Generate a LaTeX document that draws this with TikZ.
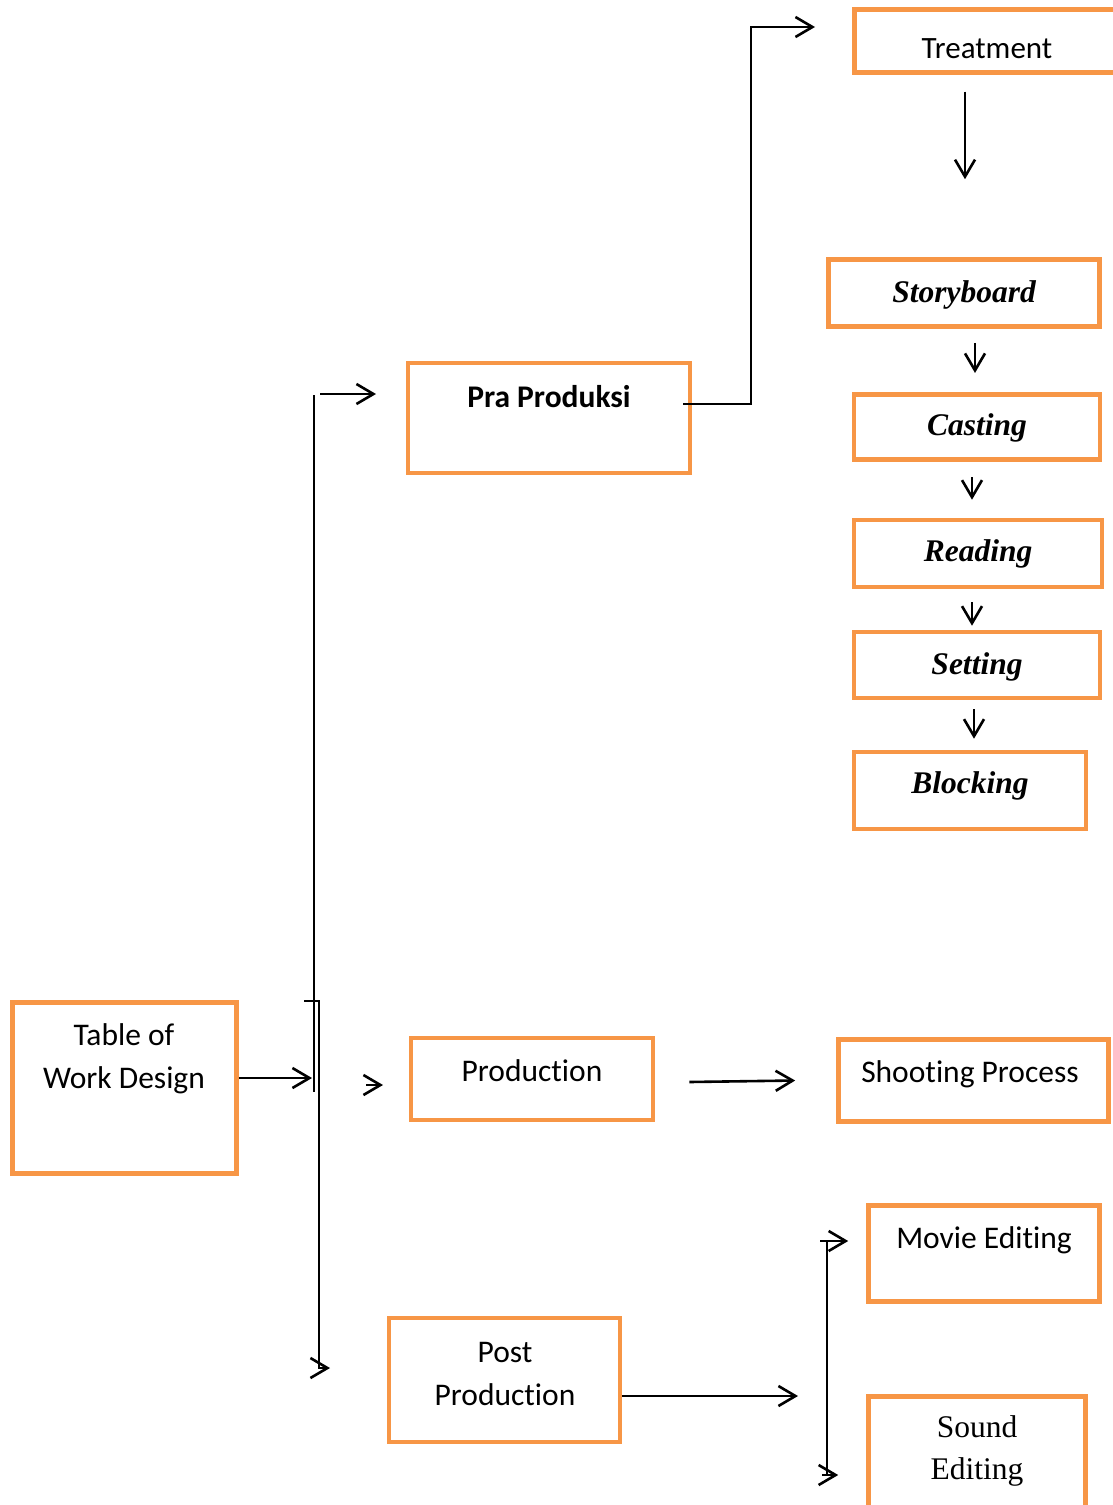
\documentclass[tikz,border=0pt]{standalone}
\usepackage{fontspec}
\setmainfont{Carlito}[Ligatures={NoCommon,NoContextual}]
\newfontfamily\tnr{Liberation Serif}
\usetikzlibrary{arrows.meta,positioning}
\definecolor{boxorange}{HTML}{F79646}
\tikzset{
        framebox/.style={
                draw=boxorange,
                line width=4.6pt,
                inner sep=0pt
            },
        txt/.style={
                inner sep=0pt,
                align=center,
                anchor=base,
                font=\fontsize{31.5}{43}\selectfont
            },
        itxt/.style={
                txt,
                font=\fontsize{31.5}{42}\selectfont\tnr\bfseries\itshape
            },
        arr/.style={
                line width=2.6pt,
                -{Straight Barb[length=17pt,width=20pt]}
            },
        plain/.style={line width=2.6pt}
}

\begin{document}
\begin{tikzpicture}[x=1pt,y=-1pt]
  \useasboundingbox (0,0) rectangle (1112,1505);
  % Boxes
  \node[framebox,minimum width=224pt,minimum height=171.5pt] (tab) at (124.5,1088) {};
  \node[framebox,minimum width=282pt,minimum height=110pt] (pra) at (549,418) {};
  \node[framebox,minimum width=242pt,minimum height=82pt] (prod) at (532,1079) {};
  \node[framebox,minimum width=231pt,minimum height=124pt] (post) at (504.5,1380) {};
  \node[framebox,minimum width=275pt,minimum height=62.5pt] (trt) at (992,41) {};
  \node[framebox,minimum width=271.5pt,minimum height=67pt] (sb) at (964,293) {};
  \node[framebox,minimum width=246pt,minimum height=65.5pt] (cast) at (977,427) {};
  \node[framebox,minimum width=248pt,minimum height=67pt] (read) at (978,553.5) {};
  \node[framebox,minimum width=246pt,minimum height=66pt] (set) at (977,665) {};
  \node[framebox,minimum width=232pt,minimum height=77pt] (blk) at (970,790.5) {};
  \node[framebox,minimum width=270pt,minimum height=82pt] (shoot) at (973.5,1080.5) {};
  \node[framebox,minimum width=231pt,minimum height=96pt] (movie) at (984,1253.5) {};
  \node[framebox,minimum width=217pt,minimum height=119pt] (sound) at (977,1456) {};
  % Texts
  \node[txt] (tab-t) at (124,1088) {Table of\\Work Design};
  \node[txt,font=\fontsize{31.5}{43}\selectfont\bfseries] (pra-t) at (549,407) {Pra Produksi};
  \node[txt] (prod-t) at (532,1081) {Production};
  \node[txt] (post-t) at (505,1405) {Post\\Production};
  \node[txt,font=\fontsize{31}{40}\selectfont] (trt-t) at (987,58) {Treatment};
  \node[itxt] (sb-t) at (964,302) {Storyboard};
  \node[itxt] (cast-t) at (977,435) {Casting};
  \node[itxt] (read-t) at (978,561) {Reading};
  \node[itxt] (set-t) at (977,674) {Setting};
  \node[itxt] (blk-t) at (970,793) {Blocking};
  \node[txt] (shoot-t) at (970,1082) {Shooting Process};
  \node[txt] (movie-t) at (984,1248) {Movie Editing};
  \node[txt,font=\fontsize{31.5}{42}\selectfont\tnr] (sound-t) at (977,1479) {Sound\\Editing};
  % free ends
  \coordinate (tab-in) at (312,1078);
  \coordinate (trunk-top) at (314,395);
  \coordinate (trunk-bot) at (314,1092);
  \coordinate (pra-in0) at (320,394);
  \coordinate (pra-in) at (376,394);
  \coordinate (pra-out) at (683,404);
  \coordinate (bend) at (751,404);
  \coordinate (trt-in) at (815,27);
  \coordinate (tick) at (304,1001);
  \coordinate (post-in) at (330,1368);
  \coordinate (prod-in0) at (366,1085);
  \coordinate (prod-in) at (383,1085);
  \coordinate (post-out) at (798,1396);
  \coordinate (edit-top) at (827,1241);
  \coordinate (edit-bot) at (827,1475);
  % Connectors
  \draw[arr] (tab-in -| tab.east) -- (tab-in);
  \draw[plain] (trunk-top) -- (trunk-bot);
  \draw[arr] (pra-in0) -- (pra-in);
  \draw[arr] (pra-out) -- (bend) |- (trt-in);
  \draw[arr] (tick) -- ++(15,0) |- (post-in);
  \draw[arr] (prod-in0) -- (prod-in);
  \draw[arr] ([xshift=34pt,yshift=-3pt]prod.east) -- ([xshift=-41pt]shoot.west);
  \draw[arr] (post-out -| post.east) -- (post-out);
  \draw[arr] ([xshift=-27pt,yshift=-17pt]trt.south) -- ([xshift=1pt,yshift=78pt]sb.north);
  \draw[arr] ([xshift=11pt,yshift=-14pt]sb.south) -- ([xshift=11pt,yshift=19pt]cast.north -| sb.south);
  \draw[arr] ([xshift=-5pt,yshift=-15pt]cast.south) -- ([xshift=-6pt,yshift=18pt]read.north);
  \draw[arr] ([xshift=-6pt,yshift=-13pt]read.south) -- ([xshift=-5pt,yshift=4pt]set.north);
  \draw[arr] ([xshift=-3pt,yshift=-9pt]set.south) -- ([xshift=4pt,yshift=11pt]blk.north);
  \draw[plain] (edit-top) -- (edit-bot);
  \draw[arr] ([xshift=-7pt]edit-top) -- ([xshift=-18pt,yshift=12.5pt]movie.west);
  \draw[arr] ([xshift=-5pt]edit-bot) -- ([xshift=-28pt]edit-bot -| sound.west);
\end{tikzpicture}
\end{document}
